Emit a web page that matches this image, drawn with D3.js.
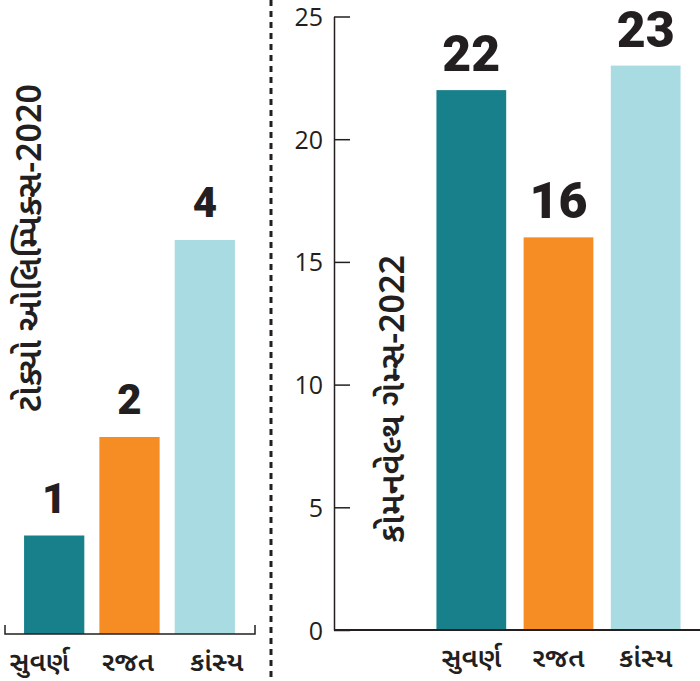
<!DOCTYPE html>
<html>
<head>
<meta charset="utf-8">
<script src="https://cdn.jsdelivr.net/npm/d3@7"></script>
<style>
  body { margin: 0; background: #fff; }
  svg { display: block; }
  .guj { font-family: "Noto Sans Gujarati", "Noto Serif Gujarati", "Lohit Gujarati", "Shruti", serif; fill: #231f20; font-weight: 600; }
  .val { font-family: "Roboto", "Liberation Sans", Arial, sans-serif; font-weight: 900; fill: #231f20; }
  .tick text { font-family: "Open Sans", "Noto Sans", sans-serif; font-size: 25px; fill: #231f20; }
</style>
</head>
<body>
<script>
const categories = ["સુવર્ણ", "રજત", "કાંસ્ય"];
const tokyoValues = [1, 2, 4];
const cwgValues = [22, 16, 23];
const cwgTicks = [0, 5, 10, 15, 20, 25];
const tokyoTitle = "ટોક્યો ઓલિમ્પિક્સ-2020";
const cwgTitle = "કોમનવેલ્થ ગેમ્સ-2022";
const colors = ["#17808b", "#f68d24", "#a8dce2"];

const W = 700, H = 681;
const svg = d3.select("body").append("svg").attr("width", W).attr("height", H);

// Left panel (Tokyo)
const xL = d3.scaleBand().domain(categories).range([9, 250]).paddingInner(0.2).paddingOuter(0.2);
const xLlab = d3.scaleBand().domain(categories).range([-5, 261]);
const yL = d3.scaleLinear().domain([0, 4]).range([634, 240]);

svg.append("g").selectAll("rect").data(tokyoValues).join("rect")
  .attr("x", (d, i) => xL(categories[i]))
  .attr("width", xL.bandwidth())
  .attr("y", d => yL(d))
  .attr("height", d => yL(0) - yL(d))
  .attr("fill", (d, i) => colors[i]);

svg.append("path")
  .attr("d", `M5,${yL(0) - 9}V${yL(0)}H255V${yL(0) - 9}`)
  .attr("fill", "none").attr("stroke", "#231f20").attr("stroke-width", 1.5);

svg.append("g").selectAll("text").data(tokyoValues).join("text")
  .attr("class", "val")
  .attr("x", (d, i) => xL(categories[i]) + xL.bandwidth() / 2)
  .attr("y", d => yL(d) - 23)
  .attr("text-anchor", "middle")
  .attr("font-size", 42)
  .text(d => d);

svg.append("g").selectAll("text").data(categories).join("text")
  .attr("class", "guj")
  .attr("x", d => xLlab(d) + xLlab.bandwidth() / 2)
  .attr("y", 671)
  .attr("text-anchor", "middle")
  .attr("font-size", 27)
  .text(d => d);

svg.append("text").attr("class", "guj")
  .attr("transform", "translate(41,248) rotate(-90)")
  .attr("text-anchor", "middle")
  .attr("font-size", 34)
  .text(tokyoTitle);

// Divider
svg.append("line")
  .attr("x1", 271).attr("x2", 271).attr("y1", 0).attr("y2", H)
  .attr("stroke", "#231f20").attr("stroke-width", 3).attr("stroke-dasharray", "6,5");

// Right panel (Commonwealth)
const xR = d3.scaleBand().domain(categories).range([419, 698]).paddingInner(0.2).paddingOuter(0.2);
const yR = d3.scaleLinear().domain([0, 25]).range([630, 16.5]);

svg.append("g").selectAll("rect").data(cwgValues).join("rect")
  .attr("x", (d, i) => xR(categories[i]))
  .attr("width", xR.bandwidth())
  .attr("y", d => yR(d))
  .attr("height", d => yR(0) - yR(d))
  .attr("fill", (d, i) => colors[i]);

const axis = d3.axisLeft(yR).tickValues(cwgTicks).tickSizeInner(-16).tickSizeOuter(0).tickPadding(11);
const gAx = svg.append("g").attr("transform", "translate(334,0)").call(axis);
gAx.selectAll("line").attr("stroke", "#231f20").attr("stroke-width", 1.5);
gAx.select(".domain").attr("stroke", "#231f20").attr("stroke-width", 1.5);
gAx.selectAll("text").attr("dy", "0.36em");

svg.append("line")
  .attr("x1", 334).attr("x2", 700).attr("y1", yR(0)).attr("y2", yR(0))
  .attr("stroke", "#231f20").attr("stroke-width", 2);

svg.append("g").selectAll("text").data(cwgValues).join("text")
  .attr("class", "val")
  .attr("x", (d, i) => xR(categories[i]) + xR.bandwidth() / 2)
  .attr("y", d => yR(d) - 19)
  .attr("text-anchor", "middle")
  .attr("font-size", 50)
  .text(d => d);

svg.append("g").selectAll("text").data(categories).join("text")
  .attr("class", "guj")
  .attr("x", d => xR(d) + xR.bandwidth() / 2)
  .attr("y", 667)
  .attr("text-anchor", "middle")
  .attr("font-size", 27)
  .text(d => d);

svg.append("text").attr("class", "guj")
  .attr("transform", "translate(404,399) rotate(-90)")
  .attr("text-anchor", "middle")
  .attr("font-size", 34)
  .text(cwgTitle);
</script>
</body>
</html>
